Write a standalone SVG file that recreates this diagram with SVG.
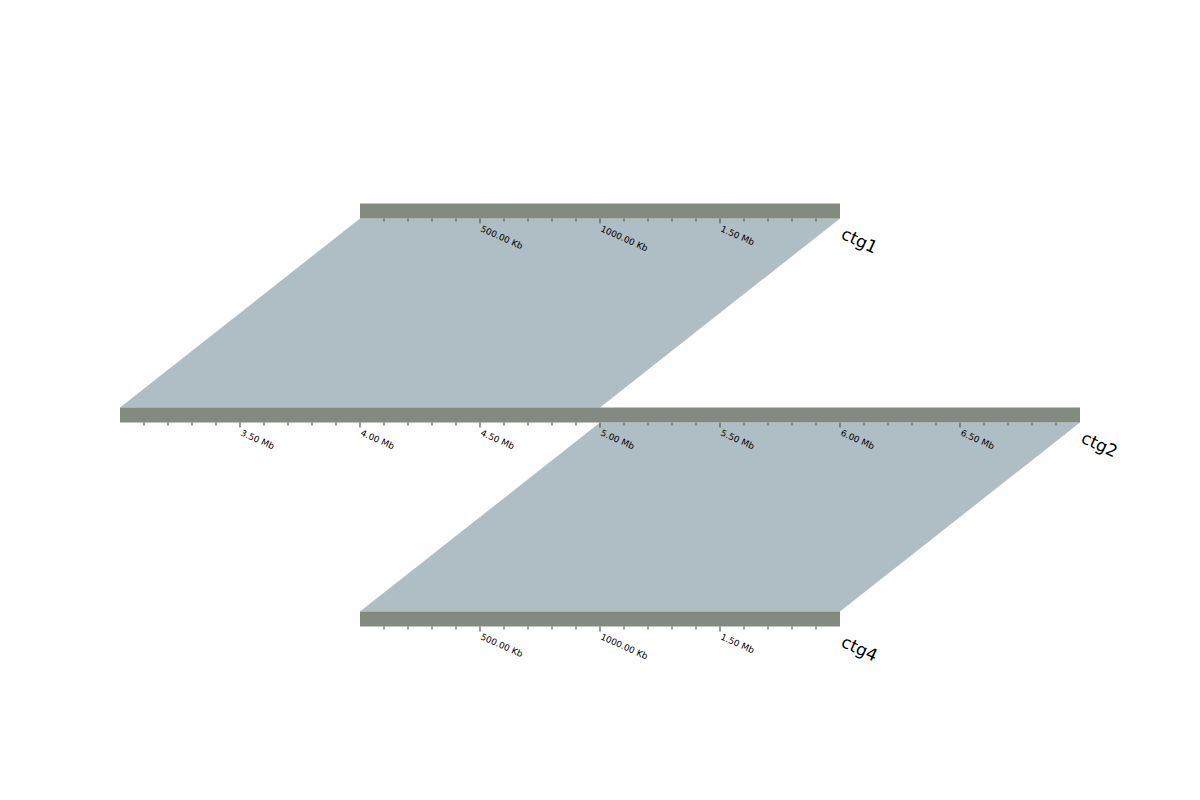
<svg xmlns="http://www.w3.org/2000/svg" width="1200" height="800" viewBox="0 0 1200 800">
<style>
.bar{fill:#838a80;}
.rib{fill:#afbdc4;}
.tk{stroke:#555a55;stroke-width:1.2;}
.lbl{font-family:"DejaVu Sans",sans-serif;font-size:8.8px;fill:#000;}
.name{font-family:"DejaVu Sans",sans-serif;font-size:17px;fill:#000;}
</style>
<rect width="1200" height="800" fill="#ffffff"/>
<g id="connectors">
<polygon class="rib" points="360,218.5 840,218.5 600,407.5 120,407.5"/>
<polygon class="rib" points="600,422.5 1080,422.5 840,611.5 360,611.5"/>
</g>
<g id="ctg1">
<rect class="bar" x="360" y="203.5" width="480" height="15"/>
<path class="tk" d="M384,218.5v3M408,218.5v3M432,218.5v3M456,218.5v3M480,218.5v5M504,218.5v3M528,218.5v3M552,218.5v3M576,218.5v3M600,218.5v5M624,218.5v3M648,218.5v3M672,218.5v3M696,218.5v3M720,218.5v5M744,218.5v3M768,218.5v3M792,218.5v3M816,218.5v3"/>
<text class="lbl" transform="translate(480,231) rotate(24)">500.00 Kb</text>
<text class="lbl" transform="translate(600,231) rotate(24)">1000.00 Kb</text>
<text class="lbl" transform="translate(720,231) rotate(24)">1.50 Mb</text>
<text class="name" transform="translate(840,238) rotate(25)">ctg1</text>
</g>
<g id="ctg2">
<rect class="bar" x="120" y="407.5" width="960" height="15"/>
<path class="tk" d="M144,422.5v3M168,422.5v3M192,422.5v3M216,422.5v3M240,422.5v5M264,422.5v3M288,422.5v3M312,422.5v3M336,422.5v3M360,422.5v5M384,422.5v3M408,422.5v3M432,422.5v3M456,422.5v3M480,422.5v5M504,422.5v3M528,422.5v3M552,422.5v3M576,422.5v3M600,422.5v5M624,422.5v3M648,422.5v3M672,422.5v3M696,422.5v3M720,422.5v5M744,422.5v3M768,422.5v3M792,422.5v3M816,422.5v3M840,422.5v5M864,422.5v3M888,422.5v3M912,422.5v3M936,422.5v3M960,422.5v5M984,422.5v3M1008,422.5v3M1032,422.5v3M1056,422.5v3"/>
<text class="lbl" transform="translate(240,435) rotate(24)">3.50 Mb</text>
<text class="lbl" transform="translate(360,435) rotate(24)">4.00 Mb</text>
<text class="lbl" transform="translate(480,435) rotate(24)">4.50 Mb</text>
<text class="lbl" transform="translate(600,435) rotate(24)">5.00 Mb</text>
<text class="lbl" transform="translate(720,435) rotate(24)">5.50 Mb</text>
<text class="lbl" transform="translate(840,435) rotate(24)">6.00 Mb</text>
<text class="lbl" transform="translate(960,435) rotate(24)">6.50 Mb</text>
<text class="name" transform="translate(1080,442) rotate(25)">ctg2</text>
</g>
<g id="ctg4">
<rect class="bar" x="360" y="611.5" width="480" height="15"/>
<path class="tk" d="M384,626.5v3M408,626.5v3M432,626.5v3M456,626.5v3M480,626.5v5M504,626.5v3M528,626.5v3M552,626.5v3M576,626.5v3M600,626.5v5M624,626.5v3M648,626.5v3M672,626.5v3M696,626.5v3M720,626.5v5M744,626.5v3M768,626.5v3M792,626.5v3M816,626.5v3"/>
<text class="lbl" transform="translate(480,639) rotate(24)">500.00 Kb</text>
<text class="lbl" transform="translate(600,639) rotate(24)">1000.00 Kb</text>
<text class="lbl" transform="translate(720,639) rotate(24)">1.50 Mb</text>
<text class="name" transform="translate(840,646) rotate(25)">ctg4</text>
</g>
</svg>
